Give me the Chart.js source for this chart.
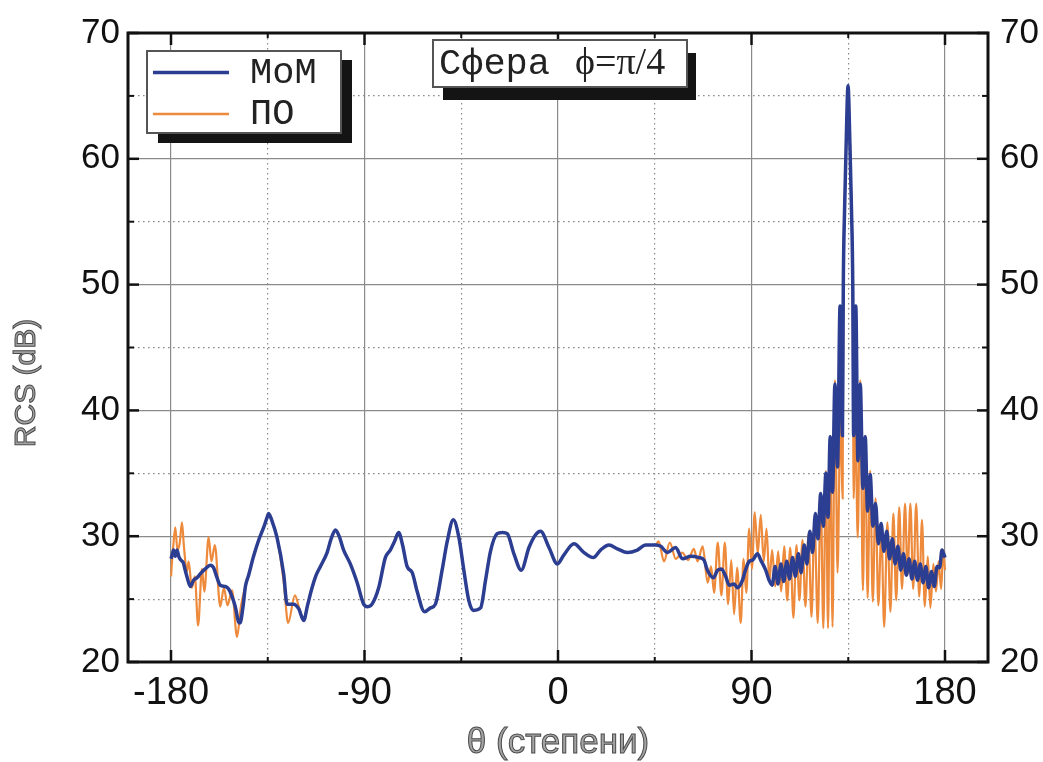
<!DOCTYPE html>
<html><head><meta charset="utf-8">
<script src="https://cdn.jsdelivr.net/npm/chart.js@4.4.1/dist/chart.umd.min.js"></script>
<style>html,body{margin:0;padding:0;background:#fff;}#wrap{width:1043px;height:762px;position:relative;}</style>
</head><body><div id="wrap"><canvas id="c" width="1043" height="762"></canvas></div>
<script>
// ---- tick labels / text ----
const xMajorTicks = [-180, -90, 0, 90, 180];
const xMinorTicks = [-135, -45, 45, 135];
const yMajorTicks = [20, 30, 40, 50, 60, 70];
const yMinorTicks = [25, 35, 45, 55, 65];
const seriesNames = ['MoM', 'ПО'];
const boxTitleWord = 'Сфера';
const boxTitleSymbol = 'ϕ=π/4';
const xTitle = 'θ (степени)';
const yTitle = 'RCS (dB)';

// ---- MoM series (blue) ----
const momTheta = [
 -180,-179.5,-178.8,-178.0,-177.2,-176.4,-175.4,-174.3,-173.4,-172.6,-171.0,-169.5,-167.9,-166.4,-164.1,-161.7,-160.2,-158.6,-157.1,-154.7,
 -153.2,-151.6,-150.1,-148.6,-147.9,-146.5,-145.4,-143.9,-141.6,-139.2,-136.9,-135.3,-134.6,-133.0,-130.7,-127.6,-126.0,-124.5,-123.0,-120.5,
 -118.3,-116.5,-114.4,-112.5,-110.5,-107.4,-105.5,-103.5,-101.8,-99.7,-96.6,-93.4,-90.4,-88.5,-86.5,-83.4,-80.3,-78.0,-76.0,-74.1,
 -72.3,-70.2,-67.8,-65.5,-62.1,-59.3,-57.0,-53.9,-51.5,-48.7,-46.1,-43.8,-41.5,-39.4,-36.0,-33.7,-31.4,-28.3,-25.8,-23.6,
 -20.5,-17.1,-13.5,-10.5,-8.1,-4.2,-0.3,2.7,7.4,12.1,16.4,19.8,23.7,27.6,32.3,36.9,40.8,45.4,47.8,50.9,
 54.7,57.9,61.7,65.6,67.9,69.5,72.3,74.2,76.0,78.0,79.6,81.9,83.5,85.8,87.2,88.9,90.5,92.8,94.3,96.6,
 98.2,99.6,101.0,102.3,103.7,105.0,106.4,107.7,109.1,110.4,111.8,113.1,114.5,115.8,117.1,118.4,119.7,120.9,122.2,123.4,
 124.6,125.6,126.6,127.7,128.8,130.0,131.2,132.3,132.7,133.3,134.0,134.9,135.8,136.5,137.1,137.5,138.5,139.5,140.6,141.8,
 142.9,144.0,145.2,146.5,147.7,149.0,150.3,151.6,152.9,154.2,155.5,156.8,158.1,159.4,160.7,162.0,163.3,164.6,165.9,167.2,
 168.5,169.8,171.1,172.4,173.7,175.0,176.3,177.5,178.6,180
];
const momRCS = [
 28.2,28.5,28.9,28.4,28.9,28.4,28.1,27.9,27.3,26.8,26.0,26.5,26.7,27.0,27.4,27.7,27.5,26.7,26.1,26.0,
 25.8,25.2,24.4,23.2,23.1,24.4,26.0,26.9,28.4,29.7,30.7,31.5,31.8,31.2,29.9,27.0,24.6,24.6,24.6,24.2,
 23.3,24.5,25.9,26.9,27.6,28.7,29.8,30.5,30.0,28.9,27.8,26.3,24.6,24.4,24.6,25.9,28.3,28.9,29.6,30.3,
 29.3,27.6,27.1,25.6,24.0,24.3,24.6,27.3,29.6,31.3,29.9,27.3,24.9,24.1,24.3,26.5,28.8,30.2,30.3,30.2,
 28.6,27.3,29.1,30.1,30.4,29.1,27.8,28.5,29.4,28.7,28.3,28.9,29.3,29.0,28.7,28.9,29.3,29.3,29.2,28.7,
 29.1,28.2,28.4,28.3,28.1,27.3,26.7,27.3,27.4,26.8,26.1,26.2,25.9,26.5,27.3,28.0,28.1,28.6,28.1,27.3,
 26.5,26.1,27.6,26.2,27.8,26.4,28.0,26.6,28.3,26.8,28.6,27.1,29.3,27.8,30.4,28.7,31.8,29.8,33.4,30.8,
 35.0,31.5,37.9,33.5,42.1,35.5,48.3,38.0,50.0,56.0,61.0,65.8,61.0,56.0,50.0,38.0,48.3,36.0,42.1,33.8,
 37.9,32.0,34.9,30.8,32.6,29.4,31.0,28.8,30.4,28.2,29.8,27.8,29.2,27.3,28.6,26.9,28.2,26.6,28.0,26.5,
 27.8,26.3,27.6,25.9,27.2,26.0,27.6,27.5,28.9,28.3
];

// ---- PO series (orange) ----
const poTheta = [
 -180,-179.4,-178.9,-178.0,-177.0,-176.0,-174.9,-174.0,-172.6,-171.8,-170.3,-168.9,-167.4,-165.6,-164.5,-162.5,-161.2,-159.6,-157.1,-155.4,
 -153.7,-151.6,-149.3,-147.5,-145.4,-143.9,-141.6,-139.2,-136.9,-135.3,-134.6,-133.0,-130.7,-127.6,-125.5,-122.4,-120.2,-118.3,-116.5,-114.4,
 -112.5,-110.5,-107.4,-105.5,-103.5,-101.8,-99.7,-96.6,-93.4,-90.4,-88.5,-86.5,-83.4,-80.3,-78.0,-76.0,-74.1,-72.3,-70.2,-67.8,
 -65.5,-62.1,-59.3,-57.0,-53.9,-51.5,-48.7,-46.1,-43.8,-41.5,-39.4,-36.0,-33.7,-31.4,-28.3,-25.8,-23.6,-20.5,-17.1,-13.5,
 -10.5,-8.1,-4.2,-0.3,2.7,7.4,12.1,16.4,19.8,23.7,27.6,32.3,36.9,40.8,45.4,46.8,49.3,52.0,54.8,57.8,
 60.5,63.2,64.9,67.3,69.6,71.2,72.6,74.3,76.0,77.6,79.1,80.6,81.9,83.3,85.0,86.3,87.6,88.9,90.2,91.5,
 92.9,94.3,95.7,97.0,98.3,99.6,101.0,102.4,103.8,105.2,106.6,108.0,109.5,110.9,112.3,113.7,115.1,116.5,117.9,119.3,
 120.8,122.2,123.4,124.6,125.6,126.6,127.7,128.8,130.0,131.4,132.4,132.7,133.3,134.0,134.9,135.8,136.5,137.1,137.5,138.3,
 139.4,140.6,141.8,142.9,144.0,145.2,146.4,147.7,149.0,150.4,151.7,153.2,154.6,156.0,157.3,158.7,160.0,161.4,162.6,163.9,
 165.2,166.6,168.0,169.3,170.6,172.0,173.2,174.6,175.8,177.0,178.2,179.2,180
];
const poRCS = [
 26.8,28.3,29.3,30.7,28.9,29.4,31.1,29.2,27.2,28.0,25.9,26.8,22.9,27.4,25.6,29.9,28.0,29.3,24.4,25.9,
 24.5,25.7,22.0,24.4,26.0,26.9,28.4,29.7,30.7,31.5,31.8,31.2,29.9,26.4,23.1,25.3,24.2,23.3,24.5,25.9,
 26.9,27.6,28.7,29.8,30.5,30.0,28.9,27.8,26.3,24.6,24.4,24.6,25.9,28.3,28.9,29.6,30.3,29.3,27.6,27.1,
 25.6,24.0,24.3,24.6,27.3,29.6,31.3,29.9,27.3,24.9,24.1,24.3,26.5,28.8,30.2,30.3,30.2,28.6,27.3,29.1,
 30.1,30.4,29.1,27.8,28.5,29.4,28.7,28.3,28.9,29.3,29.0,28.7,28.9,29.3,29.3,29.6,28.0,29.5,28.2,28.7,
 28.1,29.0,28.0,29.2,26.3,27.6,25.5,29.5,25.3,29.5,24.6,28.1,23.8,27.5,23.1,28.2,25.5,30.6,27.4,31.9,
 28.6,31.7,28.0,30.6,26.4,28.9,26.0,28.8,25.6,29.2,24.9,29.1,23.5,29.3,24.9,29.7,24.4,30.2,23.6,31.4,
 23.1,33.4,22.7,35.2,22.7,38.0,22.8,42.4,27.1,39.8,33.0,50.0,56.0,61.0,65.8,61.0,56.0,50.0,33.0,39.8,
 29.9,42.4,25.7,38.0,25.1,35.2,24.8,33.0,24.5,30.6,22.8,31.1,24.0,31.8,24.9,32.3,25.8,32.6,26.9,32.6,
 25.8,32.6,25.2,31.3,24.4,28.4,24.3,27.8,25.6,28.0,25.8,28.9,27.3
];

const BLUE = '#2c3e91';
const ORANGE = '#ee8a3c';

const toPoints = (xs, ys) => xs.map((v, i) => ({ x: v, y: ys[i] }));
const isMajorX = v => xMajorTicks.includes(v);
const isMajorY = v => yMajorTicks.includes(v);

function line(ctx, x1, y1, x2, y2) { ctx.beginPath(); ctx.moveTo(x1, y1); ctx.lineTo(x2, y2); ctx.stroke(); }

const decor = {
  id: 'decor',
  afterDraw(chart) {
    const ctx = chart.ctx;
    const { left, right, top, bottom } = chart.chartArea;
    const sx = chart.scales.x, sy = chart.scales.y;
    ctx.save();
    ctx.strokeStyle = '#111';
    ctx.lineCap = 'butt';
    // inward ticks
    ctx.lineWidth = 2.5;
    for (const v of xMajorTicks) { const p = sx.getPixelForValue(v); line(ctx, p, bottom, p, bottom - 12); line(ctx, p, top, p, top + 12); }
    for (const v of yMajorTicks) { const p = sy.getPixelForValue(v); line(ctx, left, p, left + 11, p); line(ctx, right, p, right - 11, p); }
    ctx.lineWidth = 2;
    for (const v of xMinorTicks) { const p = sx.getPixelForValue(v); line(ctx, p, bottom, p, bottom - 5); line(ctx, p, top, p, top + 5); }
    for (const v of yMinorTicks) { const p = sy.getPixelForValue(v); line(ctx, left, p, left + 6, p); line(ctx, right, p, right - 6, p); }
    // frame
    ctx.lineWidth = 3;
    ctx.strokeRect(left, top, right - left, bottom - top);

    // legend box with shadow
    ctx.fillStyle = '#141414';
    ctx.fillRect(158, 60, 194, 83);
    ctx.fillStyle = '#fff';
    ctx.fillRect(147, 51, 194, 82);
    ctx.strokeStyle = '#555'; ctx.lineWidth = 2;
    ctx.strokeRect(147, 51, 194, 82);
    const ds = chart.data.datasets;
    ctx.lineWidth = 3.3; ctx.strokeStyle = ds[0].borderColor; line(ctx, 153, 72.5, 229, 72.5);
    ctx.lineWidth = 2.5; ctx.strokeStyle = ds[1].borderColor; line(ctx, 153, 114, 229, 114);
    ctx.fillStyle = '#222';
    ctx.font = '37px "Courier New", "Liberation Mono", monospace';
    ctx.textBaseline = 'alphabetic'; ctx.textAlign = 'left';
    ctx.fillText(ds[0].label, 250, 83);
    ctx.fillText(ds[1].label, 250, 124);

    // title box with shadow
    ctx.fillStyle = '#141414';
    ctx.fillRect(443, 53, 253, 47);
    ctx.fillStyle = '#fff';
    ctx.fillRect(433, 40, 254, 47);
    ctx.strokeStyle = '#555'; ctx.lineWidth = 2;
    ctx.strokeRect(433, 40, 254, 47);
    ctx.fillStyle = '#222';
    ctx.font = '37px "Courier New", "Liberation Mono", monospace';
    ctx.fillText(boxTitleWord, 439, 74);
    ctx.font = '38px "Liberation Serif", "DejaVu Serif", serif';
    ctx.fillText(boxTitleSymbol, 575, 74);

    // axis titles (grey, outlined)
    ctx.fillStyle = '#a3a3a3'; ctx.strokeStyle = '#4a4a4a'; ctx.lineWidth = 1;
    ctx.textAlign = 'center'; ctx.textBaseline = 'middle';
    ctx.font = '35px "Liberation Sans Narrow", "Arial Narrow", "Liberation Sans", sans-serif';
    ctx.fillText(xTitle, (left + right) / 2, 743);
    ctx.strokeText(xTitle, (left + right) / 2, 743);
    ctx.save();
    ctx.translate(27, 383);
    ctx.rotate(-Math.PI / 2);
    ctx.font = '30px "Liberation Sans Narrow", "Arial Narrow", "Liberation Sans", sans-serif';
    ctx.fillText(yTitle, 0, 0);
    ctx.strokeText(yTitle, 0, 0);
    ctx.restore();
    ctx.restore();
  }
};

const gridColor = v => '#8a8a8a';
const tickFontX = { family: '"Liberation Sans Narrow", "Arial Narrow", "Liberation Sans", sans-serif', size: 38 };
const tickFontY = { family: '"Liberation Sans", Arial, sans-serif', size: 35 };

new Chart(document.getElementById('c'), {
  type: 'line',
  data: {
    datasets: [
      { label: seriesNames[0], data: toPoints(momTheta, momRCS), borderColor: BLUE, borderWidth: 3.5,
        pointRadius: 0, cubicInterpolationMode: 'monotone', fill: false, yAxisID: 'y' },
      { label: seriesNames[1], data: toPoints(poTheta, poRCS), borderColor: ORANGE, borderWidth: 2.2,
        pointRadius: 0, cubicInterpolationMode: 'monotone', fill: false, yAxisID: 'y' }
    ]
  },
  options: {
    responsive: false,
    devicePixelRatio: 1,
    animation: false,
    layout: { padding: { top: 28, left: 0, right: 0, bottom: 0 } },
    plugins: { legend: { display: false }, tooltip: { enabled: false } },
    scales: {
      x: {
        type: 'linear', position: 'bottom', min: -200, max: 200,
        afterBuildTicks: s => { s.ticks = [...xMajorTicks, ...xMinorTicks].sort((a, b) => a - b).map(v => ({ value: v })); },
        afterFit: s => { s.height = 100; },
        ticks: { autoSkip: false, maxRotation: 0, padding: 9, color: '#111', font: tickFontX,
                 callback: v => isMajorX(v) ? String(v) : '' },
        grid: { drawTicks: false, color: gridColor, lineWidth: 1.2 },
        border: { display: false, dash: c => (c.tick && !isMajorX(c.tick.value)) ? [1.6, 3.4] : [] }
      },
      y: {
        type: 'linear', position: 'left', min: 20, max: 70,
        afterBuildTicks: s => { s.ticks = [...yMajorTicks, ...yMinorTicks].sort((a, b) => a - b).map(v => ({ value: v })); },
        afterFit: s => { s.width = 128; },
        ticks: { autoSkip: false, padding: 8, color: '#111', font: tickFontY,
                 callback: v => isMajorY(v) ? String(v) : '' },
        grid: { drawTicks: false, color: gridColor, lineWidth: 1.2 },
        border: { display: false, dash: c => (c.tick && !isMajorY(c.tick.value)) ? [1.6, 3.4] : [] }
      },
      y2: {
        type: 'linear', position: 'right', min: 20, max: 70,
        afterBuildTicks: s => { s.ticks = yMajorTicks.map(v => ({ value: v })); },
        afterFit: s => { s.width = 55; },
        ticks: { autoSkip: false, padding: 12, color: '#111', font: tickFontY },
        grid: { display: false, drawTicks: false },
        border: { display: false }
      }
    }
  },
  plugins: [decor]
});
</script>
</body></html>
